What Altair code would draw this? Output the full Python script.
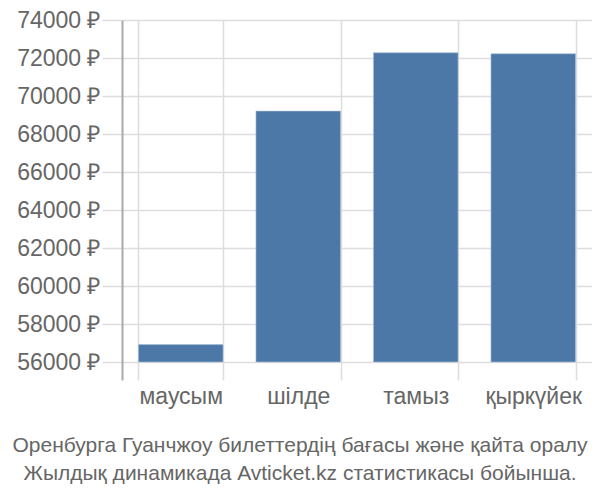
import altair as alt
import pandas as pd

months = ["маусым", "шілде", "тамыз", "қыркүйек"]
prices = [56915, 69205, 72277, 72225]
base = [56000, 56000, 56000, 56000]
y_ticks = [56000, 58000, 60000, 62000, 64000, 66000, 68000, 70000, 72000, 74000]
caption = ["Оренбурга Гуанчжоу билеттердің бағасы және қайта оралу",
           "Жылдық динамикада Avticket.kz статистикасы бойынша."]

df = pd.DataFrame({"month": months, "price": prices, "base": base})

FONT = "Liberation Sans"

chart = alt.Chart(df).mark_bar(color="#4c78a8", stroke="#a9c0dc", strokeWidth=0.6).encode(
    x=alt.X("month:N", sort=months, title=None,
            scale=alt.Scale(paddingInner=0.28, paddingOuter=0.14),
            axis=alt.Axis(labelAngle=0, labelFontSize=23, labelColor="#666666", labelFont=FONT,
                          tickBand="extent", ticks=False, domain=False,
                          grid=True, gridColor="#dddddd", gridWidth=1.5, labelPadding=5)),
    y=alt.Y("price:Q", title=None,
            scale=alt.Scale(domain=[55053, 74000], nice=False, zero=False),
            axis=alt.Axis(values=y_ticks, labelExpr="datum.value + ' ₽'",
                          labelFontSize=23, labelColor="#666666", labelFont=FONT,
                          tickSize=20, tickColor="#dddddd", tickWidth=1.5, labelPadding=2,
                          domainColor="#aaaaaa", domainWidth=2,
                          gridColor="#dddddd", gridWidth=1.5)),
    y2="base:Q",
).properties(
    width=470, height=360,
    autosize=alt.AutoSizeParams(type="none"),
    padding={"left": 114, "top": 12, "right": 0, "bottom": 110},
    title=alt.TitleParams(text=caption, orient="bottom", anchor="middle", frame="group",
                          dx=-57, offset=27, fontSize=21, fontWeight="normal",
                          color="#666666", font=FONT, lineHeight=28),
).configure_view(stroke=None)

chart.save("out.html", embed_options={"renderer": "svg", "actions": False})
